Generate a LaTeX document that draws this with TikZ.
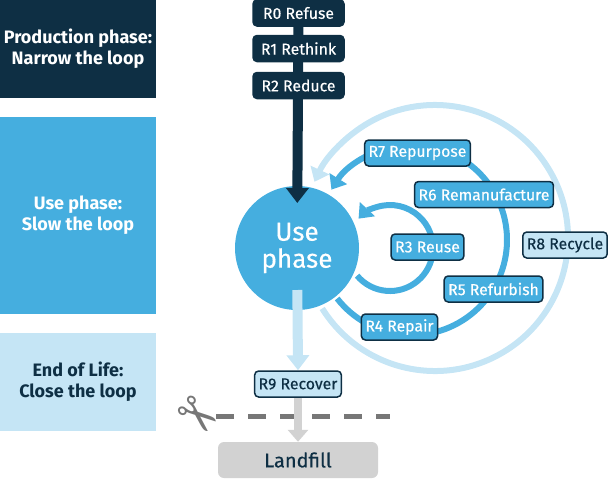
\documentclass[tikz,border=0pt]{standalone}
\usepackage{fontspec}
\setmainfont{Fira Sans}
\newfontfamily\medfont[FakeBold=0.35]{Fira Sans}
\newfontfamily\symfont{DejaVu Sans}
\usetikzlibrary{arrows.meta, positioning}
\definecolor{navy}{HTML}{0E2F44}
\definecolor{ublue}{HTML}{45AEDF}
\definecolor{lblue}{HTML}{C5E5F5}
\definecolor{lgrey}{HTML}{D2D2D2}
\definecolor{dgrey}{HTML}{777777}
\pgfdeclarelayer{arcs}
\pgfdeclarelayer{stems}
\pgfsetlayers{arcs,stems,main}
\tikzset{
    rbox/.style ={rectangle, rounded corners=4pt, draw=navy, line width=1.5pt,
                  minimum height=26pt, inner xsep=4pt, font=\medfont\fontsize{15.8}{17}\selectfont},
    navybox/.style = {rbox, fill=navy, text=white, minimum width=91pt},
    bluebox/.style = {rbox, fill=ublue, text=white},
    lightbox/.style = {rbox, fill=lblue, text=navy},
    phase/.style = {rectangle, minimum width=156pt, align=center,
                    font=\fontsize{18}{21}\selectfont\bfseries},
    loop/.style = {line width=6pt, -{Triangle[width=20pt,length=13pt]}},
    stem/.style = {line width=10pt, -{Triangle[width=22pt,length=15pt]}},
    cut/.style = {dgrey, line width=5pt, dash pattern=on 18pt off 14pt}
    }

\begin{document}
\begin{tikzpicture}[x=1pt, y=-1pt]
    \useasboundingbox (0,0) rectangle (610,480);

    % phases
    \node[phase, fill=navy, text=white, minimum height=98pt] (prod) at (78,49) {Production phase:\\Narrow the loop};
    \node[phase, fill=ublue, text=white, minimum height=197pt] (usep) at (78,215.5) {Use phase:\\Slow the loop};
    \node[phase, fill=lblue, text=navy, minimum height=98pt] (eol) at (78,382) {End of Life:\\Close the loop};

    % the R strategies
    \node[navybox] (r0) at (298.5,13) {R0 Refuse};
    \node[navybox] (r1) at (298.5,48.5) {R1 Rethink};
    \node[navybox] (r2) at (298.5,85.5) {R2 Reduce};
    \node[bluebox] (r3) at (427.5,247) {R3 Reuse};
    \node[bluebox] (r4) at (399.5,327) {R4 Repair};
    \node[bluebox] (r5) at (493.5,289) {R5 Refurbish};
    \node[bluebox] (r6) at (484,194.5) {R6 Remanufacture};
    \node[bluebox] (r7) at (417.5,153) {R7 Repurpose};
    \node[lightbox] (r8) at (565,245) {R8 Recycle};
    \node[lightbox] (r9) at (298,384) {R9 Recover};

    \node[rectangle, rounded corners=6pt, fill=lgrey, text=navy, minimum width=160pt,
          minimum height=36pt, font=\medfont\fontsize{20}{22}\selectfont] (land) at (298,460) {Landfill};

    \begin{pgfonlayer}{stems}
        \node[circle, fill=ublue, text=white, minimum size=124pt, align=center,
              font=\medfont\fontsize{26}{27}\selectfont] (use) at (297,248) {Use\\phase};
        \draw[stem, navy, shorten >=45pt] (r0.center) -- (use.center);
        \draw[stem, lblue, shorten <=42pt] (use.center) -- (r9.north);
    \end{pgfonlayer}

    % loops back to the use phase
    \coordinate (c3) at (390,248);
    \coordinate (c4) at (412,240);
    \coordinate (c8) at (435,238);
    \begin{pgfonlayer}{arcs}
        \draw[loop, lblue] (c8) ++(148:133) arc[start angle=148, end angle=-155, radius=133];
        \draw[loop, ublue] (c4) ++(142:95) arc[start angle=142, end angle=-148, radius=95];
        \draw[loop, ublue] (c3) ++(140:43) arc[start angle=140, end angle=-137, radius=43];
    \end{pgfonlayer}

    % cut before the landfill
    \coordinate (cutL) at (216,416);
    \coordinate (cutR) at (390,416);
    \draw[cut] (cutL) -- (cutR);
    \node[text=dgrey, rotate=-40, inner sep=0pt, font=\symfont\fontsize{50}{50}\selectfont] (scissors) at (196,418) {✂};
    \draw[lgrey, line width=8pt, -{Triangle[width=20pt,length=12pt]}] (r9.south) -- (land.north);
\end{tikzpicture}
\end{document}
